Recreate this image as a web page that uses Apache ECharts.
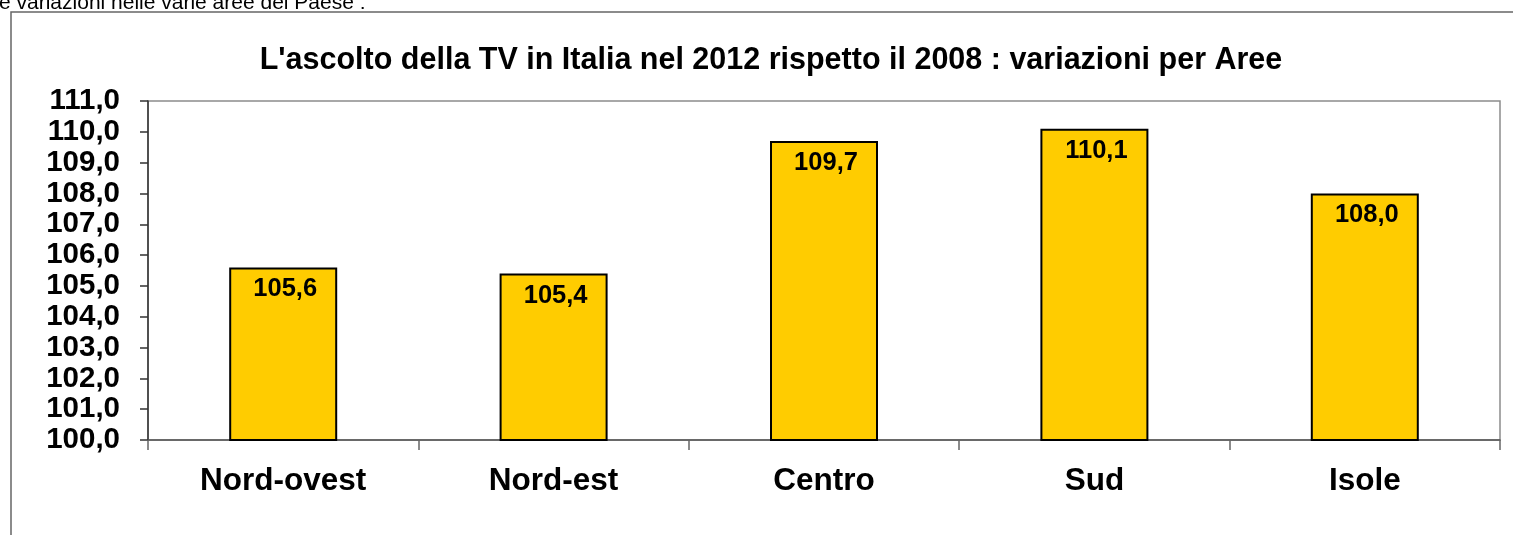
<!DOCTYPE html>
<html>
<head>
<meta charset="utf-8">
<script src="https://cdn.jsdelivr.net/npm/echarts@6/dist/echarts.min.js"></script>
<style>
html,body{margin:0;padding:0;background:#fff;}
#main{width:1513px;height:535px;}
</style>
</head>
<body>
<div id="main"></div>
<script>
var aree = ['Nord-ovest', 'Nord-est', 'Centro', 'Sud', 'Isole'];
var indice = [105.6, 105.4, 109.7, 110.1, 108.0];
var titolo = "L'ascolto della TV in Italia nel 2012 rispetto il 2008 : variazioni per Aree";
var testoSopra = 'e variazioni nelle varie aree del Paese :';

var font = 'Liberation Sans, Arial, sans-serif';
function virgola(v){
	return v.toFixed(1).replace('.', ',');
}

var myChart = echarts.init(document.getElementById('main'));
var option = {
	animation: false,
	textStyle: { fontFamily: font },
	title: {
		text: titolo,
		left: 766,
		top: 40,
		textAlign: 'center',
		textStyle: { fontFamily: font, fontSize: 30.5, fontWeight: 'bold', color: '#000' }
	},
	graphic: [
		{
			type: 'rect',
			shape: { x: 11, y: 12, width: 1540, height: 560 },
			style: { fill: 'none', stroke: '#666', lineWidth: 1.5 },
			z: -1
		},
		{
			type: 'text',
			x: -1,
			y: 14,
			style: { text: testoSopra, font: '21px ' + font, fill: '#000', verticalAlign: 'bottom' }
		}
	],
	grid: {
		left: 148, right: 13, top: 101, bottom: 95,
		show: true, borderColor: '#8c8c8c', borderWidth: 1.5
	},
	xAxis: {
		type: 'category',
		data: aree,
		axisLine: { lineStyle: { color: '#555', width: 1.5 } },
		axisTick: { show: true, length: 10, lineStyle: { color: '#666', width: 1.5 } },
		axisLabel: { margin: 25, fontSize: 31.5, fontWeight: 'bold', color: '#000', fontFamily: font }
	},
	yAxis: {
		type: 'value',
		min: 100, max: 111, interval: 1,
		splitLine: { show: false },
		axisLine: { show: true, lineStyle: { color: '#333', width: 1.5 } },
		axisTick: { show: true, length: 8, lineStyle: { color: '#333', width: 1.5 } },
		axisLabel: {
			margin: 28, fontSize: 29.5, fontWeight: 'bold', color: '#000', fontFamily: font,
			formatter: function(v){ return virgola(v); }
		}
	},
	series: [
		{
			type: 'bar',
			data: indice,
			barWidth: 108,
			itemStyle: { color: '#FFCC00', borderColor: '#000', borderWidth: 2 },
			label: {
				show: true,
				position: 'insideTop',
				distance: 9,
				offset: [2, 0],
				fontSize: 25.5,
				fontWeight: 'bold',
				color: '#000',
				fontFamily: font,
				formatter: function(p){ return virgola(p.value); }
			}
		}
	]
};
myChart.setOption(option);
</script>
</body>
</html>
